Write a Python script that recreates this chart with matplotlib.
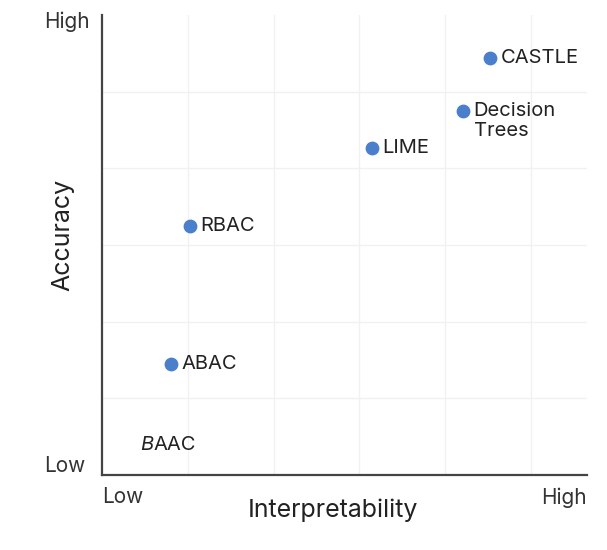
import matplotlib
matplotlib.use("Agg")
import matplotlib.pyplot as plt

# approximate positions (arbitrary units, Low -> High)
methods = ["CASTLE", "Decision\nTrees", "LIME", "RBAC", "ABAC"]
interpretability = [4.52, 4.20, 3.14, 1.02, 0.80]
accuracy = [5.44, 4.75, 4.26, 3.25, 1.45]

# BAAC is only a label, no marker
baac_x, baac_y = 0.44, 0.39

plt.rcParams["font.family"] = ["Inter", "DejaVu Sans"]

fig = plt.figure(figsize=(6.07, 5.5), dpi=100)
ax = fig.add_axes([0.168, 0.136, 0.799, 0.837])

ax.set_xlim(0, 5.65)
ax.set_ylim(0, 6)
ax.set_xticks([1, 2, 3, 4, 5])
ax.set_yticks([1, 2, 3, 4, 5])
ax.tick_params(length=0, labelbottom=False, labelleft=False)
ax.grid(True, color="#f1f1f1", linewidth=1.0)
ax.set_axisbelow(True)

for side in ["top", "right"]:
    ax.spines[side].set_visible(False)
for side in ["left", "bottom"]:
    ax.spines[side].set_color("#444444")
    ax.spines[side].set_linewidth(1.6)

label_size = 14.5
ax.scatter(interpretability, accuracy, s=80, color="#4a7fcc", zorder=3)
for name, x, y in zip(methods, interpretability, accuracy):
    # two-line labels keep their first line level with the marker
    dy = -7.5 if "\n" in name else 0
    ax.annotate(name, (x, y), xytext=(8, dy), textcoords="offset points",
                ha="left", va="center", fontsize=label_size, color="#222222",
                linespacing=1.1)

ax.text(baac_x, baac_y, "B", fontsize=label_size, style="italic", color="#222222",
        ha="left", va="center", transform=ax.transData)
ax.annotate("AAC", (baac_x, baac_y), xytext=(9.8, 0), textcoords="offset points",
            ha="left", va="center", fontsize=label_size, color="#222222")

# Low / High end labels
end_size = 15
ax.text(-0.025, 0.985, "High", transform=ax.transAxes, ha="right", va="center",
        fontsize=end_size, color="#333333")
ax.text(-0.035, 0.02, "Low", transform=ax.transAxes, ha="right", va="center",
        fontsize=end_size, color="#333333")
ax.text(0.0, -0.047, "Low", transform=ax.transAxes, ha="left", va="center",
        fontsize=end_size, color="#333333")
ax.text(1.0, -0.05, "High", transform=ax.transAxes, ha="right", va="center",
        fontsize=end_size, color="#333333")

ax.text(0.476, -0.076, "Interpretability", transform=ax.transAxes,
        ha="center", va="center", fontsize=18, color="#222222")
ax.text(-0.080, 0.522, "Accuracy", transform=ax.transAxes, rotation=90,
        ha="center", va="center", fontsize=18, color="#222222")

fig.savefig("out.png", dpi=100)
